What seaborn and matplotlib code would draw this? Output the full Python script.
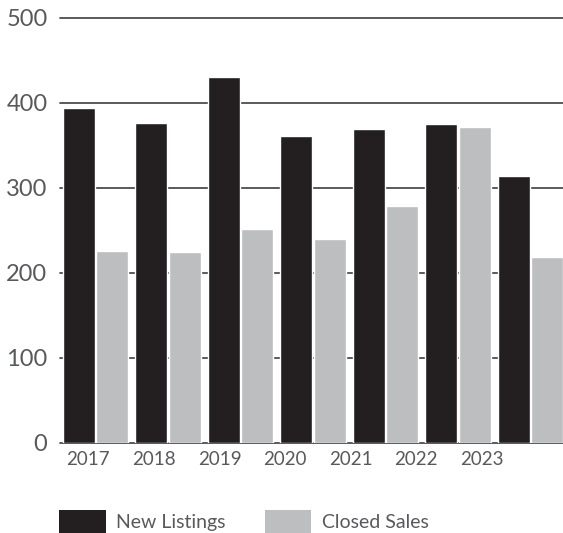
import matplotlib
matplotlib.use("Agg")
import matplotlib.pyplot as plt
import seaborn as sns
import pandas as pd
from matplotlib.patches import Patch

years = ["2017", "2018", "2019", "2020", "2021", "2022", "2023"]
new_listings = [394, 376, 430, 361, 369, 375, 314]
closed_sales = [226, 224, 251, 240, 279, 371, 218]
series_names = ["New Listings", "Closed Sales"]
y_ticks = [0, 100, 200, 300, 400, 500]

dark = "#231f20"
light = "#bcbec0"
grid_col = "#4d4d4f"
text_col = "#58595b"

df = pd.DataFrame({
    "year": years * 2,
    "value": new_listings + closed_sales,
    "series": [series_names[0]] * len(years) + [series_names[1]] * len(years),
})

sns.set_theme(style="white")
plt.rcParams["font.family"] = ["Lato", "DejaVu Sans"]

fig = plt.figure(figsize=(5.63, 5.33), dpi=100)
ax = fig.add_axes([60 / 563, (533 - 442.7) / 533, 1 - 60 / 563, (442.7 - 17.7) / 533])

sns.barplot(data=df, x="year", y="value", hue="series", order=years,
            hue_order=series_names, palette=[dark, light], width=0.92,
            gap=0.04, saturation=1, ax=ax, legend=False, zorder=3)

ax.set_ylim(0, 500)
ax.set_xlim(-0.49, 6.45)
ax.set_yticks(y_ticks)
ax.set_yticklabels([str(t) for t in y_ticks])
ax.yaxis.grid(True, color=grid_col, linewidth=1.3, zorder=1)
ax.set_axisbelow(True)
for s in ax.spines.values():
    s.set_visible(False)
for gl in ax.get_ygridlines():
    gl.set_clip_on(False)

# year labels sit on their own evenly spaced row beneath the bars
label_pos = [-0.10 + 0.905 * i for i in range(len(years))]
ax.set_xticks(label_pos)
ax.set_xticklabels(years)
ax.tick_params(axis="x", length=0, pad=6, labelsize=13.5, labelcolor=text_col)
ax.tick_params(axis="y", length=0, pad=9, labelsize=17, labelcolor=text_col)
ax.set_xlabel("")
ax.set_ylabel("")

handles = [Patch(facecolor=dark, edgecolor="none"), Patch(facecolor=light, edgecolor="none")]
ax.legend(handles, series_names, loc="center left",
          bbox_to_anchor=(59 / 563, (533 - 522) / 533), bbox_transform=fig.transFigure,
          ncol=2, frameon=False, fontsize=14, labelcolor=text_col,
          handlelength=2.4, handleheight=1.45, handletextpad=0.55,
          columnspacing=2.0, borderpad=0, borderaxespad=0)

fig.savefig("out.png", dpi=100)
